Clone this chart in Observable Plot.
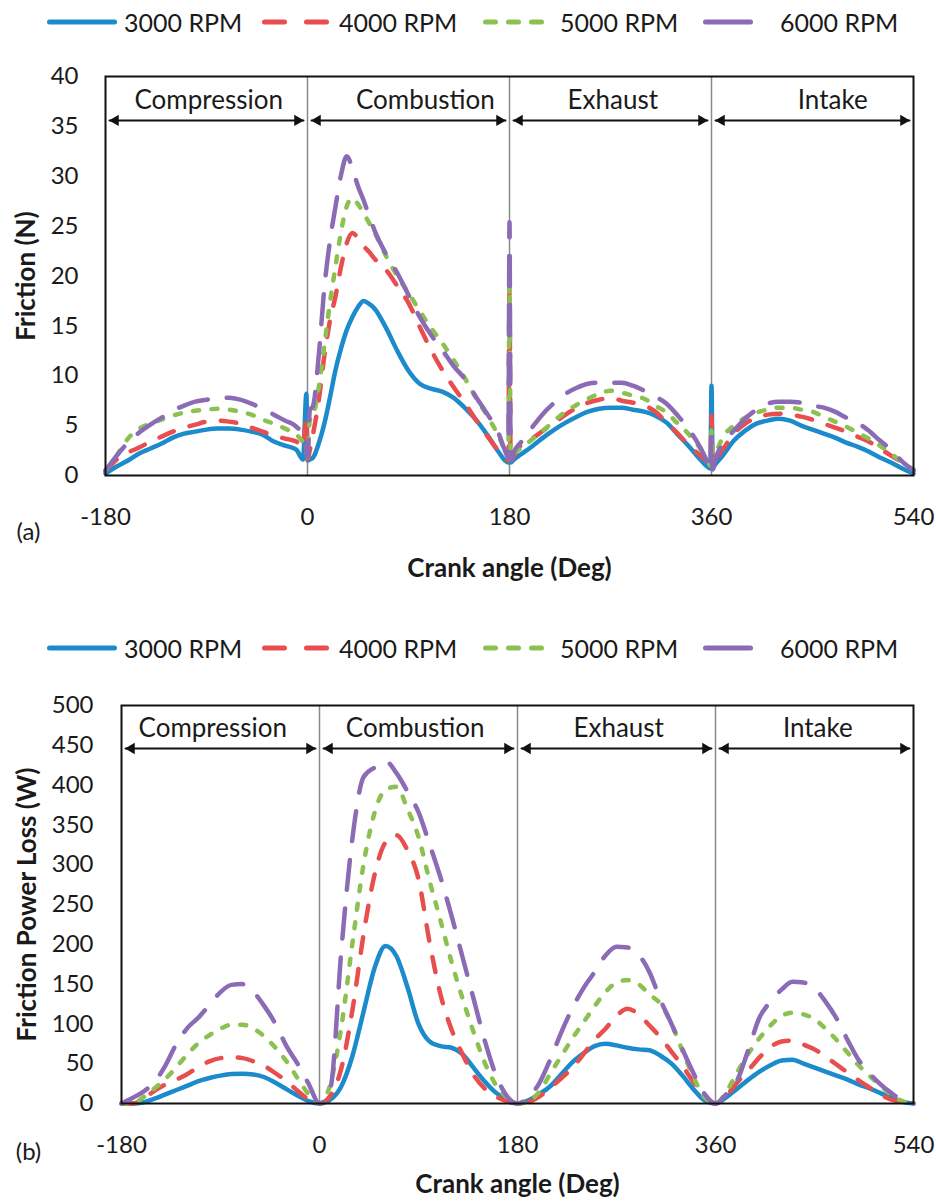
<!DOCTYPE html>
<html>
<head>
<meta charset="utf-8">
<script src="https://cdn.jsdelivr.net/npm/d3@7"></script>
<script src="https://cdn.jsdelivr.net/npm/@observablehq/plot@0.6"></script>
<style>
  html, body { margin: 0; padding: 0; background: #fff; }
  #wrap { position: relative; width: 936px; height: 1202px; overflow: hidden; font-family: Lato, "Open Sans", sans-serif; color: #1a1a1a; }
  .legend { position: absolute; left: 0; width: 936px; height: 44px; }
  .item { position: absolute; top: 0; height: 44px; display: flex; align-items: center; font-size: 25px; white-space: nowrap; }
  .item svg { margin-right: 7px; }
  .panel { position: absolute; left: 0; }
</style>
</head>
<body>
<div id="wrap">
  <div class="panel" id="plotA" style="top:45px"></div>
  <div class="panel" id="plotB" style="top:670px"></div>
  <div class="legend" id="legA" style="top:0px"></div>
  <div class="legend" id="legB" style="top:626px"></div>
</div>
<script>
// ---------------- data ----------------
const speeds = ["3000 RPM", "4000 RPM", "5000 RPM", "6000 RPM"];
const phaseNames = ["Compression", "Combustion", "Exhaust", "Intake"];
const phaseStart = [-180, 0, 180, 360];
const phaseEnd = [0, 180, 360, 540];
const phaseLabelAngleA = [-88, 105, 272, 468];
const phaseLabelAngleB = [-97, 87, 272, 453];
const strokeBoundaries = [0, 180, 360];
const xTicks = [-180, 0, 180, 360, 540];
const yTicksA = [0, 5, 10, 15, 20, 25, 30, 35, 40];
const yTicksB = [0, 50, 100, 150, 200, 250, 300, 350, 400, 450, 500];

// Panel (a): friction force (N) vs crank angle
const angleA = [-180,-170,-160,-150,-140,-130,-120,-110,-100,-90,-80,-70,-60,-50,-40,-30,-20,-10,-4,-1,0,2,5,
  10,15,20,25,30,35,40,45,50,55,60,70,80,90,100,110,120,130,140,150,160,170,176,179,180,181,184,
  190,200,210,220,230,240,250,260,270,280,290,300,310,320,330,340,350,356,359,360,361,364,
  370,380,390,400,410,420,430,440,450,460,470,480,490,500,510,520,530,540];
const friction3000 = [0.2,0.9,1.5,2.2,2.7,3.2,3.8,4.2,4.4,4.6,4.7,4.7,4.6,4.4,4.1,3.4,3.0,2.6,1.6,8.2,1.5,1.6,1.8,
  3.2,5.2,7.8,10.6,12.8,14.6,15.9,16.9,17.5,17.2,16.7,14.8,12.5,10.5,9.2,8.7,8.4,7.8,6.8,5.6,4.1,2.4,1.5,1.3,3.0,1.3,1.6,
  2.1,2.9,3.8,4.6,5.3,5.9,6.4,6.7,6.8,6.8,6.6,6.4,6.0,5.3,4.1,2.9,1.6,0.9,0.7,9.0,0.8,1.2,
  2.0,3.5,4.5,5.2,5.5,5.7,5.5,5.0,4.6,4.2,3.8,3.3,2.9,2.4,1.8,1.3,0.7,0.2];
const friction4000 = [0.5,1.6,2.3,2.8,3.4,3.9,4.4,4.8,5.1,5.4,5.5,5.4,5.2,4.8,4.4,4.0,3.7,3.4,2.8,6.0,1.6,2.5,4.2,
  7.5,12.0,15.5,18.0,21.0,23.3,24.3,23.8,23.0,22.4,21.7,20.6,19.0,17.3,14.9,12.6,10.6,8.9,7.3,5.6,4.0,2.5,1.8,1.5,19.0,1.5,2.0,
  3.0,3.7,4.5,5.3,6.1,6.8,7.3,7.6,7.8,7.5,7.3,7.0,6.4,5.3,4.2,3.0,2.0,1.4,1.1,6.0,1.1,1.6,
  2.6,4.2,5.2,5.8,6.1,6.2,6.1,5.9,5.6,5.2,4.8,4.4,3.9,3.4,2.7,2.0,1.3,0.5];
const friction5000 = [0.5,2.0,3.7,4.7,5.2,5.6,6.0,6.3,6.5,6.6,6.7,6.6,6.4,6.1,5.6,5.2,4.7,4.1,3.3,2.5,1.8,5.5,6.0,
  8.8,13.0,17.3,21.0,24.5,27.0,27.8,27.2,26.3,25.3,24.3,22.0,20.0,18.3,16.5,14.8,13.3,11.6,9.8,7.8,6.0,4.0,2.5,1.8,20.0,1.8,2.2,
  2.7,3.6,4.5,5.5,6.4,7.1,7.7,8.2,8.5,8.3,8.0,7.7,7.0,6.3,5.2,4.1,2.7,1.6,1.0,4.5,1.1,2.2,
  3.8,5.0,5.8,6.3,6.6,6.8,6.8,6.6,6.4,5.9,5.4,4.9,4.3,3.7,3.0,2.2,1.3,0.6];
const friction6000 = [0.5,2.0,3.3,4.3,5.1,5.8,6.5,7.0,7.4,7.6,7.8,7.8,7.6,7.2,6.7,6.1,5.5,4.9,4.0,2.5,1.8,6.5,7.0,
  12.0,18.8,23.5,27.0,30.2,32.0,30.8,29.0,27.6,26.0,24.5,22.2,20.3,18.1,15.9,14.1,12.6,11.0,9.7,7.9,6.2,4.3,2.5,1.8,25.4,1.5,2.4,
  3.3,4.8,6.2,7.3,8.2,8.8,9.2,9.3,9.3,9.3,9.0,8.5,7.9,7.2,6.0,4.6,2.8,1.4,0.5,3.8,0.6,1.8,
  3.2,4.5,5.7,6.6,7.2,7.4,7.4,7.3,7.0,6.8,6.4,5.8,5.3,4.5,3.5,2.6,1.4,0.5];

// Panel (b): friction power loss (W) vs crank angle
const angleB = [-180,-170,-160,-150,-140,-130,-120,-110,-100,-90,-80,-70,-60,-50,-40,-30,-20,-10,
  0,10,20,30,40,50,60,70,80,90,100,110,120,130,140,150,160,170,
  180,190,200,210,220,230,240,250,260,270,280,290,300,310,320,330,340,350,
  360,370,380,390,400,410,420,430,440,450,460,470,480,490,500,510,520,530,540];
const power3000 = [0,0,1.5,6,11.5,17,22.5,28,32,35,37,37.5,36.5,33,26,18,10,3,
  0,5,22,60,115,170,198,185,146,100,78,72,70,62,45,28,14,5,
  0,4,12,22,37,52,63,72,75,73,70,68,67,60,50,35,18,4,
  0,8,19,30,40,48,54,55,50,45,40,35,30,24,19,13,7,2,0];
const power4000 = [0,0,6,16,24,30,37,46,53,57,58,57,53,47,38,28,16,5,
  0,10,45,118,212,287,328,337,318,282,203,137,93,62,36,19,9,3,
  0,2,9,20,32,45,62,80,94,110,119,112,98,83,65,47,27,8,
  0,10,27,42,58,71,78,79,74,68,59,49,39,29,20,11,5,2,0];
const power5000 = [0,0,8,19,31,46,62,76,86,94,99,99,94,84,70,53,32,12,
  0,25,98,202,300,365,394,398,370,335,280,230,178,132,90,52,24,8,
  0,3,15,38,60,82,102,122,140,152,155,150,137,125,100,66,33,8,
  0,15,40,63,82,98,110,114,112,106,94,80,64,48,35,22,11,3,0];
const power6000 = [0,7,15,27,48,75,95,108,124,140,149,150,140,122,100,72,50,25,
  0,20,195,334,410,422,430,415,392,366,326,284,236,184,132,80,37,10,
  0,8,26,56,90,120,145,165,186,197,196,187,165,130,100,68,38,12,
  0,12,30,68,108,128,143,153,152,145,128,107,80,55,38,24,13,4,0];

const arrowLevelA = 35.6;
const labelLevelA = 37.6;
const arrowLevelB = 446;
const labelLevelB = 471;

// ---------------- styling ----------------
const colors = ["#1b8bcb", "#e84e4d", "#8cc152", "#8b6bb5"];
const dashes = [null, "15.5,16.5", "6,12.5", "30,19"];
const legendDashes = [null, "20,22", "10,13", "45,40"];
const FONT = "Lato, 'Open Sans', sans-serif";

function buildLegend(el) {
  const lefts = [47, 262, 483, 703];
  speeds.forEach((s, i) => {
    const item = document.createElement("div");
    item.className = "item";
    item.style.left = lefts[i] + "px";
    const dash = legendDashes[i] ? `stroke-dasharray="${legendDashes[i]}"` : "";
    item.innerHTML = `<svg width="70" height="12"><line x1="2.5" x2="67.5" y1="6" y2="6" stroke="${colors[i]}" stroke-width="5" stroke-linecap="round" ${dash}/></svg><span>${s}</span>`;
    el.appendChild(item);
  });
}

function panel(cfg) {
  const phases = phaseNames.map((name, i) => ({
    name, start: phaseStart[i], end: phaseEnd[i], labelAngle: cfg.labelAngles[i]
  }));
  const lines = cfg.series.map((vals, i) =>
    Plot.line(cfg.angles.map((a, j) => ({angle: a, value: vals[j]})), {
      x: "angle", y: "value", curve: "monotone-x",
      stroke: colors[i], strokeWidth: 4.5,
      strokeDasharray: dashes[i] || undefined,
      strokeLinecap: "round", strokeLinejoin: "round"
    })
  );
  return Plot.plot({
    width: 936,
    height: cfg.height,
    marginLeft: cfg.marginLeft,
    marginRight: 23,
    marginTop: cfg.marginTop,
    marginBottom: cfg.marginBottom,
    style: {fontFamily: FONT, fontSize: "23px", background: "transparent", color: "#1a1a1a"},
    x: {domain: [-180, 540]},
    y: {domain: cfg.yDomain},
    marks: [
      Plot.ruleX(strokeBoundaries, {stroke: "#8a8a8a", strokeWidth: 1.5}),
      ...lines,
      Plot.frame({stroke: "#111", strokeWidth: 2}),
      Plot.arrow(phases, {x1: "start", x2: "end", y1: () => cfg.arrowLevel, y2: () => cfg.arrowLevel,
        headLength: 0, insetStart: 4, insetEnd: 4, stroke: "#111", strokeWidth: 2}),
      Plot.dot(phases, {x: "start", y: () => cfg.arrowLevel, symbol: "triangle", r: 4.2, rotate: -90,
        dx: 10, fill: "#111", stroke: null}),
      Plot.dot(phases, {x: "end", y: () => cfg.arrowLevel, symbol: "triangle", r: 4.2, rotate: 90,
        dx: -10, fill: "#111", stroke: null}),
      Plot.text(phases, {x: "labelAngle", y: () => cfg.labelLevel, text: "name", fontSize: 26,
        textAnchor: "middle", lineAnchor: "middle", fill: "#1a1a1a"}),
      Plot.axisX(xTicks, {tickSize: 0, tickPadding: 32, label: null, tickFormat: d => String(d), fontSize: 24}),
      Plot.axisY(cfg.yTicks, {tickSize: 0, tickPadding: cfg.yPad, label: null, tickFormat: d => String(d), fontSize: 24}),
      Plot.text(["Crank angle (Deg)"], {text: d => d, frameAnchor: "bottom", dy: cfg.titleDy,
        fontWeight: "bold", fontSize: 26, textAnchor: "middle", lineAnchor: "middle", fill: "#1a1a1a"}),
      Plot.text([cfg.yLabel], {text: d => d, frameAnchor: "left", dx: cfg.yLabelDx, rotate: -90,
        fontWeight: "bold", fontSize: 26, textAnchor: "middle", lineAnchor: "middle", fill: "#1a1a1a"}),
      Plot.text([cfg.tag], {text: d => d, frameAnchor: "bottom-left", dx: cfg.tagDx, dy: cfg.tagDy,
        fontSize: 24, textAnchor: "middle", lineAnchor: "middle", fill: "#1a1a1a"})
    ]
  });
}

buildLegend(document.getElementById("legA"));
buildLegend(document.getElementById("legB"));

document.getElementById("plotA").appendChild(panel({
  angles: angleA,
  series: [friction3000, friction4000, friction5000, friction6000],
  yDomain: [0, 40], yTicks: yTicksA,
  height: 575, marginLeft: 105, marginTop: 31, marginBottom: 145,
  labelAngles: phaseLabelAngleA, arrowLevel: arrowLevelA, labelLevel: labelLevelA,
  yPad: 27, titleDy: 93, yLabel: "Friction (N)", yLabelDx: -79,
  tag: "(a)", tagDx: -77, tagDy: 57
}));

document.getElementById("plotB").appendChild(panel({
  angles: angleB,
  series: [power3000, power4000, power5000, power6000],
  yDomain: [0, 500], yTicks: yTicksB,
  height: 532, marginLeft: 121, marginTop: 35, marginBottom: 99,
  labelAngles: phaseLabelAngleB, arrowLevel: arrowLevelB, labelLevel: labelLevelB,
  yPad: 28, titleDy: 81, yLabel: "Friction Power Loss (W)", yLabelDx: -94,
  tag: "(b)", tagDx: -93, tagDy: 49
}));
</script>
</body>
</html>
